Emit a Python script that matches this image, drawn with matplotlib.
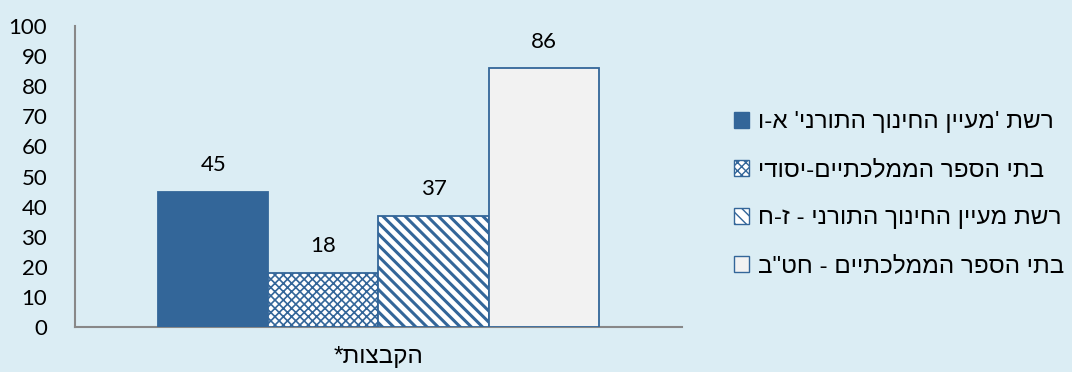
import matplotlib
matplotlib.use("Agg")
import matplotlib.pyplot as plt
from matplotlib.patches import Patch

# ---- data ----
category = "הקבצות*"
series_names = [
    "רשת 'מעיין החינוך התורני' א-ו",
    "בתי הספר הממלכתיים-יסודי",
    "רשת מעיין החינוך התורני - ז-ח",
    "בתי הספר הממלכתיים - חט\"ב",
]
values = [45, 18, 37, 86]
yticks = [0, 10, 20, 30, 40, 50, 60, 70, 80, 90, 100]


def vis(s):
    # Hebrew logical order -> visual order (all RTL runs)
    return s[::-1]


BG = "#DBEDF4"
BLUE = "#336699"
HEB = ['Liberation Sans', 'DejaVu Sans']
plt.rcParams['font.family'] = ['Lato', 'DejaVu Sans']
plt.rcParams['hatch.color'] = BLUE

fig = plt.figure(figsize=(10.72, 3.72), dpi=100, facecolor=BG)
ax = fig.add_axes([0.07, 0.121, 0.566, 0.809])
ax.set_facecolor(BG)

w = 0.1815
faces = [BLUE, "white", "white", "#F2F2F2"]
hatches = [None, "xxxx", "\\\\\\", None]
hlw = [1.0, 1.2, 2.2, 1.0]
for i, (v, name) in enumerate(zip(values, series_names)):
    x = (i - 1.5) * w
    plt.rcParams['hatch.linewidth'] = hlw[i]
    ax.bar(x, v, width=w, color=faces[i], edgecolor=BLUE, linewidth=1.3,
           hatch=hatches[i], label=vis(name), zorder=3)
    ax.annotate(str(v), (x, v), xytext=(0, 19), textcoords='offset points',
                ha='center', va='center', fontsize=16, color='black')

ax.set_xlim(-0.5, 0.5)
ax.set_ylim(0, 100)
ax.set_yticks(yticks)
ax.set_yticklabels([str(t) for t in yticks], fontsize=16)
ax.tick_params(axis='y', length=0, pad=20)
ax.set_xticks([0])
ax.set_xticklabels([vis(category)], fontsize=17.5, family=HEB)
ax.tick_params(axis='x', length=0, pad=14)
for s in ['top', 'right']:
    ax.spines[s].set_visible(False)
for s in ['left', 'bottom']:
    ax.spines[s].set_color('#888888')
    ax.spines[s].set_linewidth(1.5)

handles = []
for i in range(4):
    plt.rcParams['hatch.linewidth'] = hlw[i]
    handles.append(Patch(facecolor=faces[i], edgecolor=BLUE, hatch=hatches[i]))
leg = fig.legend(handles, [vis(n) for n in series_names], loc='upper left',
                 bbox_to_anchor=(0.676, 0.727), frameon=False,
                 prop={'family': HEB, 'size': 17.5},
                 handlelength=0.62, handleheight=0.62, handletextpad=0.35,
                 labelspacing=1.07, borderaxespad=0)

fig.savefig("out.png", dpi=100, facecolor=BG)
